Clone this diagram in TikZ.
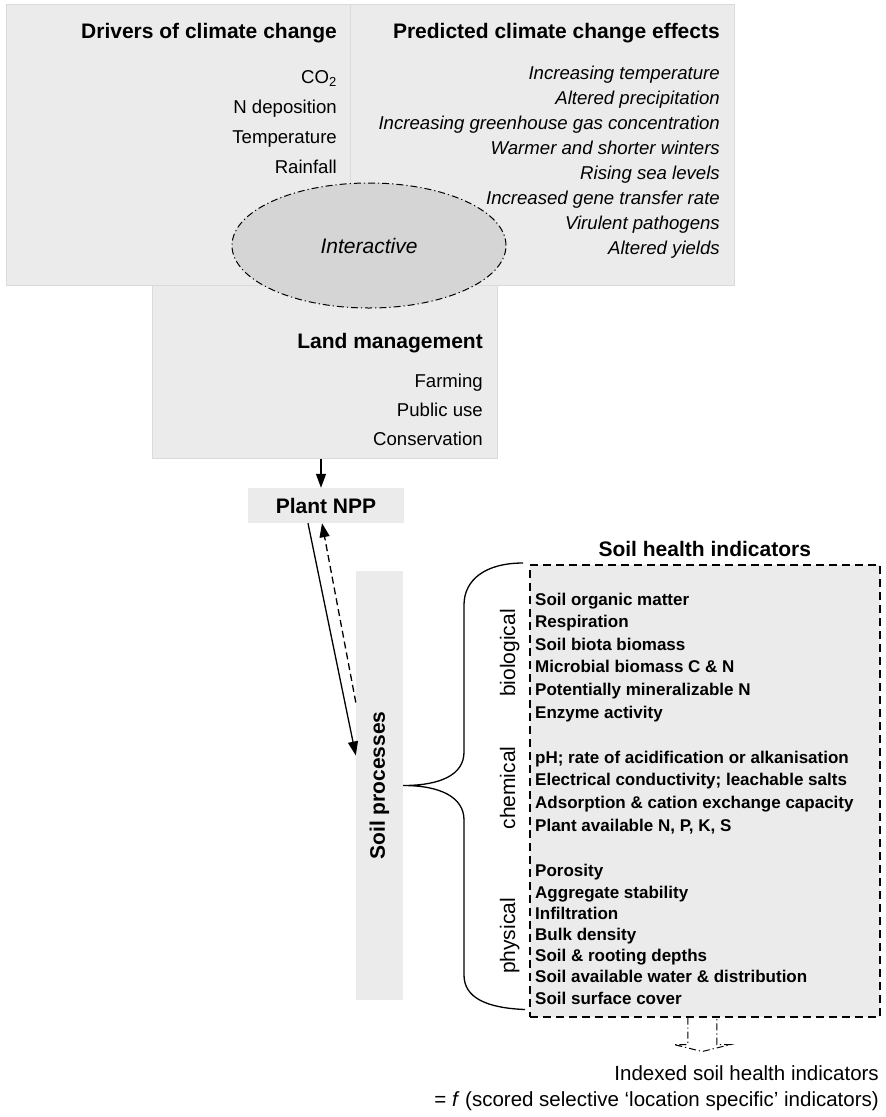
\documentclass[tikz,border=0pt]{standalone}
\usepackage{fontspec}
\setmainfont{Liberation Sans}
\usepackage{tikz}
\usetikzlibrary{shapes.geometric, arrows.meta, calc}
\definecolor{panelgray}{RGB}{235,235,235}
\definecolor{panelline}{RGB}{218,218,218}
\definecolor{ovalgray}{RGB}{212,213,212}
\tikzset{
  panel/.style={
    rectangle, draw=panelline, fill=panelgray, line width=1pt,
    anchor=north west, inner sep=0pt
  },
  plainbox/.style={
    rectangle, fill=panelgray, inner sep=0pt,
    font=\fontsize{21}{25}\selectfont\bfseries
  },
  heading/.style={
    anchor=base east, inner sep=0pt,
    font=\fontsize{21}{25}\selectfont\bfseries
  },
  drivers/.style={
    anchor=base east, inner sep=0pt, align=right,
    font=\fontsize{18.6}{30}\selectfont
  },
  effects/.style={
    anchor=base east, inner sep=0pt, align=right,
    font=\fontsize{18.6}{25}\selectfont\itshape
  },
  indicator/.style={
    anchor=base west, inner sep=0pt, align=left,
    font=\fontsize{17}{22.6}\selectfont\bfseries
  },
  group/.style={
    rotate=90, anchor=base, inner sep=0pt,
    font=\fontsize{21}{25}\selectfont
  },
  dashdot/.style={dash pattern=on 7pt off 3pt on 1.2pt off 3pt, line width=1pt},
  arrow/.style={line width=1.3pt, -{Triangle[length=14pt,width=10pt]}},
  brace/.style={line width=1.3pt},
}

\begin{document}
\begin{tikzpicture}[x=1pt, y=-1pt]
  \useasboundingbox (0,0) rectangle (886,1117);

  % climate panels
  \node (land) [panel, minimum width=345, minimum height=173] at (152,285) {};
  \node (drv)  [panel, minimum width=344, minimum height=281] at (6,4) {};
  \node (eff)  [panel, minimum width=384, minimum height=281] at (350,4) {};
  \node (inter) [ellipse, draw, dashdot, fill=ovalgray,
                 minimum width=274, minimum height=125, inner sep=0pt,
                 font=\fontsize{21}{25}\selectfont\itshape] at (369,245.5) {Interactive};

  % lists are placed by the baseline of their last line
  \node (drvhead)  [heading] at ($(drv.north east)+(-14,34)$) {Drivers of climate change};
  \node (drvlist)  [drivers] at ($(drv.north east)+(-14,169)$)
    {CO\textsubscript{2}\\N deposition\\Temperature\\Rainfall};
  \node (effhead)  [heading] at ($(eff.north east)+(-15,34)$) {Predicted climate change effects};
  \node (efflist)  [effects] at ($(eff.north east)+(-15,250)$)
    {Increasing temperature\\Altered precipitation\\Increasing greenhouse gas concentration\\
     Warmer and shorter winters\\Rising sea levels\\Increased gene transfer rate\\
     Virulent pathogens\\Altered yields};
  \node (landhead) [heading] at ($(land.north east)+(-15,63)$) {Land management};
  \node (landlist) [drivers, font=\fontsize{18.6}{29}\selectfont] at ($(land.north east)+(-15,160)$)
    {Farming\\Public use\\Conservation};

  % soil side
  \node (npp)  [plainbox, minimum width=156, minimum height=35] at (326,505.5) {Plant NPP};
  \node (proc) [plainbox, rotate=90, minimum width=429, minimum height=47] at (379.5,785.5) {Soil processes};
  \node (ind)  [rectangle, draw, dash pattern=on 8pt off 5pt, line width=1.5pt, fill=panelgray,
                anchor=north west, minimum width=350, minimum height=452, inner sep=0pt] at (529,564) {};
  \node (indhead) [anchor=base, inner sep=0pt, font=\fontsize{21}{25}\selectfont\bfseries]
    at ($(ind.north)+(0,-8)$) {Soil health indicators};

  \node (bio)  [indicator] at ($(ind.north west)+(6,154)$)
    {Soil organic matter\\Respiration\\Soil biota biomass\\Microbial biomass C \& N\\
     Potentially mineralizable N\\Enzyme activity};
  \node (chem) [indicator] at ($(ind.north west)+(6,267)$)
    {pH; rate of acidification or alkanisation\\Electrical conductivity; leachable salts\\
     Adsorption \& cation exchange capacity\\Plant available N, P, K, S};
  \node (phys) [indicator, font=\fontsize{17}{21.2}\selectfont\bfseries] at ($(ind.north west)+(6,440)$)
    {Porosity\\Aggregate stability\\Infiltration\\Bulk density\\Soil \& rooting depths\\
     Soil available water \& distribution\\Soil surface cover};

  \node (biolab)  [group] at ($(ind.north west)+(-14,89)$)  {biological};
  \node (chemlab) [group] at ($(ind.north west)+(-14,224)$) {chemical};
  \node (physlab) [group] at ($(ind.north west)+(-14,372)$) {physical};

  \node (score) [anchor=base east, align=right, inner sep=0pt,
                 font=\fontsize{20.5}{26}\selectfont] at (879,1106)
    {Indexed soil health indicators\\= \textit{f} (scored selective ‘location specific’ indicators)};

  % connectors
  \coordinate (nppin)   at ($(npp.north)+(-5,0)$);
  \coordinate (procin)  at ($(proc.north)+(0,-30)$);
  \coordinate (procout) at ($(proc.north)+(0,-83)$);
  \coordinate (bracetop) at ($(ind.north west)+(-6,-1)$);
  \coordinate (bracebot) at ($(ind.south west)+(-4,-8)$);
  \coordinate (idxtip)   at ($(ind.south)+(-2.5,34)$);

  \draw [arrow] (nppin |- land.south) -- (nppin);
  \draw [arrow] ($(npp.south)+(-18,0)$) -- (procin);
  \draw [arrow, dash pattern=on 7pt off 4pt] (procout) -- ($(npp.south)+(-4,0)$);

  \draw [brace] (bracetop) .. controls (485,563) and (464,580) .. (464,605)
    -- (464,752) .. controls (464,775) and (440,785.5) .. (proc.south)
    .. controls (440,785.5) and (464,797) .. (464,820)
    -- (464,975) .. controls (464,998) and (487,1008) .. (bracebot);

  % hollow arrow to the index
  \draw [dashdot] ($(ind.south)+(-17,0)$) -- ++(0,27) -- ++(-14,0) -- (idxtip)
    -- ($(ind.south)+(26,27)$) -- ++(-14,0) -- ++(0,-27);
\end{tikzpicture}
\end{document}
